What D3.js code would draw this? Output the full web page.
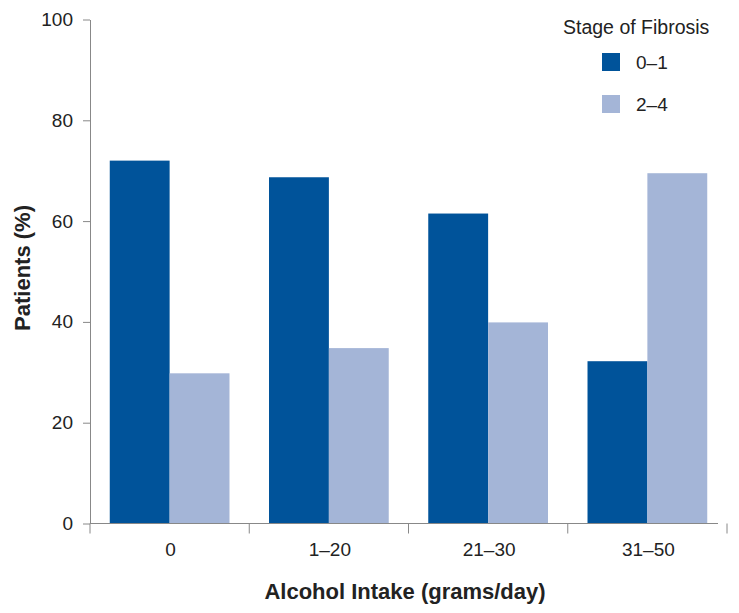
<!DOCTYPE html>
<html><head><meta charset="utf-8">
<script src="https://cdn.jsdelivr.net/npm/d3@7"></script>
<style>body{margin:0;background:#fff}svg{display:block;font-family:"Liberation Sans",Arial,sans-serif}</style>
</head><body><svg id="c" width="739" height="613"></svg>
<script>
const categories = ["0", "1–20", "21–30", "31–50"];
const seriesNames = ["0–1", "2–4"];
const stage01 = [72, 68.7, 61.5, 32.2];
const stage24 = [29.8, 34.8, 39.9, 69.5];
const yTicks = [0, 20, 40, 60, 80, 100];
const colors = ["#00539a", "#a4b5d7"];

(function () {
const svg = d3.select("#c");
const mLeft = 90, mRight = 727, mTop = 19.5, mBottom = 523.5;
const x0 = d3.scaleBand().domain(categories).range([mLeft, mRight]).padding(0);
const x1 = d3.scaleBand().domain(seriesNames).range([0, x0.bandwidth()]).paddingInner(0).paddingOuter(0.33);
const y = d3.scaleLinear().domain([0, 100]).range([mBottom, mTop]);
const seriesVals = [stage01, stage24];

const data = [];
categories.forEach((c, i) => seriesNames.forEach((s, j) => data.push({c, s, v: seriesVals[j][i], j})));

svg.append("g").selectAll("rect").data(data).join("rect")
  .attr("x", d => x0(d.c) + x1(d.s))
  .attr("width", x1.bandwidth())
  .attr("y", d => y(d.v))
  .attr("height", d => y(0) - y(d.v))
  .attr("fill", d => colors[d.j]);

// y axis
const ya = svg.append("g").attr("transform", `translate(${mLeft},0)`)
  .call(d3.axisLeft(y).tickValues(yTicks).tickSize(7).tickPadding(10).tickSizeOuter(0));
ya.select(".domain").attr("stroke", "#888");
ya.selectAll(".tick line").attr("stroke", "#888");
ya.selectAll("text").attr("font-size", 19).attr("fill", "#222").attr("font-family", "Liberation Sans, Arial, sans-serif");

// x axis
const xa = svg.append("g").attr("transform", `translate(0,${mBottom})`);
xa.append("line").attr("x1", mLeft).attr("x2", 718).attr("y1", 0).attr("y2", 0).attr("stroke", "#888");
const bounds = categories.map(c => x0(c)).concat([x0(categories[categories.length-1]) + x0.bandwidth()]);
xa.selectAll("line.t").data(bounds).join("line").attr("class","t")
  .attr("x1", d => d).attr("x2", d => d).attr("y1", 0).attr("y2", 10).attr("stroke", "#888");
xa.selectAll("text").data(categories).join("text")
  .attr("x", d => x0(d) + x0.bandwidth()/2 + 1)
  .attr("y", 32).attr("text-anchor", "middle").attr("font-size", 19).attr("fill", "#222").text(d => d);

// titles
svg.append("text").attr("x", 405).attr("y", 599).attr("text-anchor", "middle")
  .attr("font-size", 22).attr("font-weight", "bold").attr("fill", "#222").text("Alcohol Intake (grams/day)");
svg.append("text").attr("transform", "translate(30,268) rotate(-90)").attr("text-anchor", "middle")
  .attr("font-size", 22).attr("font-weight", "bold").attr("fill", "#222").text("Patients (%)");

// legend
const lg = svg.append("g");
lg.append("text").attr("x", 563).attr("y", 34).attr("font-size", 19.5).attr("fill", "#222").text("Stage of Fibrosis");
seriesNames.forEach((s, i) => {
  lg.append("rect").attr("x", 602).attr("y", 53 + i*42).attr("width", 18).attr("height", 18).attr("fill", colors[i]);
  lg.append("text").attr("x", 636).attr("y", 69 + i*42).attr("font-size", 19).attr("fill", "#222").text(s);
});
})();
</script></body></html>
